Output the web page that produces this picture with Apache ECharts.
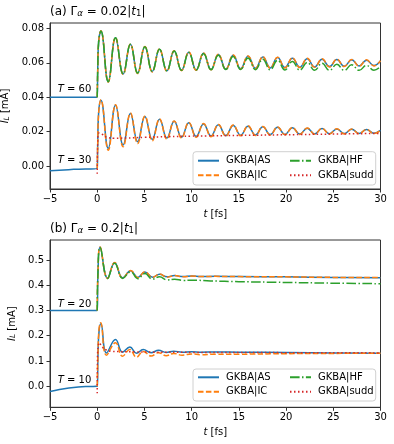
<!DOCTYPE html>
<html>
<head>
<meta charset="utf-8">
<script src="https://cdn.jsdelivr.net/npm/echarts@6/dist/echarts.min.js"></script>
<style>
  html, body { margin: 0; padding: 0; background: #fff; }
  #chart { width: 394px; height: 444px; }
</style>
</head>
<body>
<div id="chart"></div>
<script>
const FONT = 'DejaVu Sans';
const C_AS = '#1f77b4', C_IC = '#ff7f0e', C_HF = '#2ca02c', C_SUDD = '#d62728';

// ---- data ----
const xTicks = [-5, 0, 5, 10, 15, 20, 25, 30];
const yTicksA = [0.00, 0.02, 0.04, 0.06, 0.08];
const yTicksB = [0.0, 0.1, 0.2, 0.3, 0.4, 0.5];

// times of the extrema (peak / trough) in panel (a)
const extT = [0.39,1.17,1.94,2.75,3.52,4.28,5.05,5.83,6.6,7.38,8.15,8.93,9.7,10.48,11.26,12.05,12.83,13.62,14.4,15.19,
  15.97,16.76,17.54,18.32,19.1,19.88,20.67,21.45,22.24,23.02,23.81,24.6,25.38,26.16,26.95,27.74,28.52,29.3,30];

// (a) T = 60
const preA60 = [[-5, 0.04], [0, 0.04]];
const riseA60 = [[0, 0.04], [0.05, 0.055], [0.15, 0.072]];
const asA60 = [0.0784,0.0490,0.0745,0.0535,0.0707,0.0540,0.0693,0.0549,0.0678,0.0553,0.0668,0.0556,0.0661,0.0558,0.0655,0.0561,0.0648,0.0563,0.0643,0.0566,
  0.0638,0.0568,0.0634,0.0570,0.0630,0.0572,0.0627,0.0574,0.0624,0.0576,0.0621,0.0578,0.0619,0.0580,0.0617,0.0582,0.0615,0.0584,0.0610];
const icA60 = [0.0786,0.0488,0.0747,0.0533,0.0709,0.0538,0.0695,0.0547,0.0680,0.0551,0.0670,0.0554,0.0663,0.0556,0.0657,0.0559,0.0650,0.0561,0.0645,0.0564,
  0.0640,0.0566,0.0636,0.0568,0.0632,0.0570,0.0629,0.0572,0.0626,0.0574,0.0623,0.0576,0.0621,0.0578,0.0619,0.0580,0.0617,0.0582,0.0612];
const hfA60 = [0.0784,0.0490,0.0745,0.0535,0.0707,0.0540,0.0693,0.0549,0.0678,0.0553,0.0668,0.0556,0.0660,0.0558,0.0652,0.0560,0.0644,0.0561,0.0636,0.0561,
  0.0628,0.0560,0.0621,0.0559,0.0614,0.0558,0.0608,0.0557,0.0602,0.0556,0.0597,0.0556,0.0592,0.0556,0.0588,0.0556,0.0585,0.0557,0.0578];

// (a) T = 30
const preA30 = [[-5, -0.0027], [-2.5, -0.0019], [0, -0.0012]];
const riseA30 = [[0, -0.0012], [0.05, 0.012], [0.15, 0.031]];
const asA30 = [0.0383,0.0103,0.0354,0.0122,0.0305,0.0141,0.0288,0.0155,0.0272,0.0163,0.0260,0.0168,0.0252,0.0172,0.0245,0.0175,0.0240,0.0177,0.0236,0.0179,
  0.0232,0.0181,0.0228,0.0183,0.0225,0.0184,0.0222,0.0186,0.0220,0.0187,0.0218,0.0188,0.0216,0.0189,0.0214,0.0190,0.0212,0.0191,0.0207];
const icA30 = [0.0385,0.0092,0.0356,0.0112,0.0308,0.0131,0.0290,0.0147,0.0274,0.0157,0.0262,0.0163,0.0254,0.0168,0.0247,0.0171,0.0242,0.0174,0.0238,0.0176,
  0.0234,0.0178,0.0230,0.0180,0.0227,0.0182,0.0224,0.0184,0.0221,0.0185,0.0219,0.0186,0.0217,0.0187,0.0215,0.0188,0.0213,0.0189,0.0208];
const suddA30 = [[0,-0.0045],[0.04,0.010],[0.2,0.0192],[0.5,0.0186],[1,0.0168],[1.8,0.0162],[3,0.0163],[5,0.0167],[7.5,0.0171],
  [10,0.0174],[15,0.0178],[20,0.0182],[25,0.0186],[30,0.0190]];

// (b) T = 20
const asB20 = [[-5,0.3],[0,0.3],[0.08,0.45],[0.3,0.55],[1.1,0.428],[1.85,0.489],[2.7,0.429],[3.55,0.457],[4.3,0.431],[5.05,0.452],
  [5.85,0.432],[6.6,0.443],[7.4,0.433],[8.2,0.438],[9.1,0.434],[10,0.436],[11,0.434],[12.5,0.435],[15,0.434],[20,0.433],[25,0.431],[30,0.430]];
const icB20 = [[0,0.3],[0.08,0.45],[0.3,0.551],[1.1,0.427],[1.85,0.490],[2.7,0.428],[3.55,0.458],[4.3,0.430],[5.05,0.453],
  [5.85,0.431],[6.6,0.444],[7.4,0.432],[8.2,0.438],[9.1,0.433],[10,0.436],[11,0.434],[12.5,0.435],[15,0.434],[20,0.433],[25,0.431],[30,0.430]];
const hfB20 = [[0,0.3],[0.08,0.45],[0.3,0.55],[1.1,0.427],[1.85,0.487],[2.7,0.427],[3.55,0.453],[4.3,0.426],[5.05,0.446],
  [5.85,0.424],[6.6,0.433],[7.4,0.421],[8.2,0.424],[9.1,0.419],[10,0.420],[12,0.417],[15,0.414],[20,0.411],[25,0.408],[30,0.406]];

// (b) T = 10
const asB10 = [[-5,-0.021],[-4,-0.013],[-3,-0.007],[-2,-0.003],[-1,-0.001],[0,0],[0.08,0.12],[0.2,0.22],[0.39,0.247],[0.98,0.132],
  [1.94,0.185],[2.68,0.135],[3.46,0.155],[4.16,0.131],[4.87,0.145],[5.7,0.133],[6.5,0.142],[7.3,0.134],[8.1,0.139],[9,0.135],
  [10,0.137],[11,0.135],[12.5,0.136],[15,0.135],[20,0.134],[25,0.132],[30,0.131]];
const icB10 = [[0,0],[0.08,0.13],[0.2,0.23],[0.36,0.251],[0.98,0.123],[1.94,0.172],[2.68,0.119],[3.46,0.145],[4.16,0.115],
  [4.87,0.138],[5.7,0.120],[6.5,0.133],[7.3,0.121],[8.1,0.130],[9,0.123],[10,0.128],[11,0.125],[12.5,0.127],[15,0.127],
  [20,0.129],[25,0.130],[30,0.131]];
const suddB10 = [[0,-0.028],[0.03,0.12],[0.25,0.172],[0.5,0.156],[1,0.143],[1.5,0.138],[2.5,0.137],[4,0.136],[6,0.135],
  [10,0.134],[20,0.133],[30,0.132]];

const zip = (ts, vs) => ts.map((t, i) => [t, vs[i]]);

// ---- styles ----
const rich = {
  it: { fontFamily: FONT, fontStyle: 'italic', fontSize: 10, color: '#000' },
  sub: { fontFamily: FONT, fontStyle: 'italic', fontSize: 7.5, color: '#000', verticalAlign: 'bottom', lineHeight: 8 }
};
const richTitle = {
  it: { fontFamily: FONT, fontStyle: 'italic', fontSize: 12, color: '#000' },
  sub: { fontFamily: FONT, fontStyle: 'italic', fontSize: 8.5, color: '#000', verticalAlign: 'bottom', lineHeight: 9 },
  subn: { fontFamily: FONT, fontSize: 8.5, color: '#000', verticalAlign: 'bottom', lineHeight: 9 }
};
const fmtX = v => (v < 0 ? '\u2212' + Math.abs(v) : String(v));

function xAxis(gi) {
  return {
    type: 'value', gridIndex: gi, min: -5, max: 30, interval: 5,
    name: '{it|t} [fs]', nameLocation: 'middle', nameGap: 20,
    nameTextStyle: { fontFamily: FONT, fontSize: 10, color: '#000', rich },
    axisLine: { show: true, onZero: false, lineStyle: { color: '#333', width: 1 } },
    axisTick: { show: true, length: 3.5, lineStyle: { color: '#333' }, customValues: xTicks },
    axisLabel: { margin: 5, fontFamily: FONT, fontSize: 10, color: '#000', formatter: fmtX, customValues: xTicks },
    splitLine: { show: false }
  };
}
function yAxis(gi, min, max, ticks, digits) {
  return {
    type: 'value', gridIndex: gi, min, max,
    name: '{it|I}{sub|L} [mA]', nameLocation: 'middle', nameGap: 22, nameRotate: 90,
    nameTextStyle: { fontFamily: FONT, fontSize: 10, color: '#000', rich },
    axisLine: { show: true, onZero: false, lineStyle: { color: '#333', width: 1 } },
    axisTick: { show: true, length: 3.5, lineStyle: { color: '#333' }, customValues: ticks },
    axisLabel: { margin: 6, fontFamily: FONT, fontSize: 10, color: '#000',
      formatter: v => v.toFixed(digits), customValues: ticks },
    splitLine: { show: false }
  };
}
function line(name, data, gi, color, type, z, mark) {
  const s = {
    name, type: 'line', data, xAxisIndex: gi, yAxisIndex: gi,
    smooth: 0.45, symbol: 'none', z,
    lineStyle: { color, width: 1.5, type },
    itemStyle: { color }
  };
  if (mark) {
    s.markPoint = {
      symbol: 'circle', symbolSize: 0,
      label: { show: true, position: 'inside', fontFamily: FONT, fontSize: 10, color: '#000', rich },
      data: mark.map(m => ({ coord: m.coord, label: { formatter: m.text } }))
    };
  }
  return s;
}

const dashIC = [5.5, 2.4];
const dashHF = [9.6, 2.4, 1.5, 2.4];
const dotSudd = [1.5, 2.5];

function legends(top) {
  const base = {
    orient: 'vertical', top, itemWidth: 21, itemHeight: 12, itemGap: 2.5, padding: 0, z: 12,
    itemStyle: { opacity: 0 },
    textStyle: { fontFamily: FONT, fontSize: 10, color: '#000', lineHeight: 12, padding: [0, 0, 0, 2] },
    selectedMode: false
  };
  return [
    Object.assign({}, base, { left: 197, data: ['GKBA|AS', 'GKBA|IC'] }),
    Object.assign({}, base, { left: 289, data: ['GKBA|HF', 'GKBA|sudd'] })
  ];
}

const chart = echarts.init(document.getElementById('chart'));
chart.setOption({
  animation: false,
  backgroundColor: '#fff',
  title: [
    { text: '(a) \u0393{sub|\u03b1} = 0.02|{it|t}{subn|1}|', left: 50, top: 6, padding: 0,
      textStyle: { fontFamily: FONT, fontSize: 12, fontWeight: 'normal', color: '#000', rich: richTitle } },
    { text: '(b) \u0393{sub|\u03b1} = 0.2|{it|t}{subn|1}|', left: 50, top: 223, padding: 0,
      textStyle: { fontFamily: FONT, fontSize: 12, fontWeight: 'normal', color: '#000', rich: richTitle } }
  ],
  grid: [
    { left: 50, top: 23, width: 330.5, height: 166, show: true, borderColor: '#333', borderWidth: 1,
      outerBoundsMode: 'none', containLabel: false },
    { left: 50, top: 240, width: 330.5, height: 167.3, show: true, borderColor: '#333', borderWidth: 1,
      outerBoundsMode: 'none', containLabel: false }
  ],
  xAxis: [xAxis(0), xAxis(1)],
  yAxis: [
    yAxis(0, -0.0133, 0.0831, yTicksA, 2),
    yAxis(1, -0.0834, 0.579, yTicksB, 1)
  ],
  legend: legends(154.7).concat(legends(371.3)),
  graphic: [
    { type: 'rect', z: 10, shape: { x: 193, y: 151.7, width: 182.7, height: 33.3, r: 3 },
      style: { fill: 'rgba(255,255,255,0.8)', stroke: '#d0d0d0', lineWidth: 1 } },
    { type: 'rect', z: 10, shape: { x: 193, y: 369, width: 182.7, height: 32, r: 3 },
      style: { fill: 'rgba(255,255,255,0.8)', stroke: '#d0d0d0', lineWidth: 1 } }
  ],
  series: [
    // panel (a)
    line('GKBA|AS', preA60.concat(riseA60.slice(1), zip(extT, asA60)), 0, C_AS, 'solid', 2,
      [{ coord: [-2.4, 0.0446], text: '{it|T} = 60' }]),
    line('GKBA|AS', preA30.concat(riseA30.slice(1), zip(extT, asA30)), 0, C_AS, 'solid', 2,
      [{ coord: [-2.4, 0.0035], text: '{it|T} = 30' }]),
    line('GKBA|IC', riseA60.concat(zip(extT, icA60)), 0, C_IC, dashIC, 3),
    line('GKBA|IC', riseA30.concat(zip(extT, icA30)), 0, C_IC, dashIC, 3),
    line('GKBA|HF', riseA60.concat(zip(extT, hfA60)), 0, C_HF, dashHF, 3),
    line('GKBA|sudd', suddA30, 0, C_SUDD, dotSudd, 4),
    // panel (b)
    line('GKBA|AS', asB20, 1, C_AS, 'solid', 2, [{ coord: [-2.4, 0.325], text: '{it|T} = 20' }]),
    line('GKBA|AS', asB10, 1, C_AS, 'solid', 2, [{ coord: [-2.4, 0.025], text: '{it|T} = 10' }]),
    line('GKBA|IC', icB20, 1, C_IC, dashIC, 3),
    line('GKBA|IC', icB10, 1, C_IC, dashIC, 3),
    line('GKBA|HF', hfB20, 1, C_HF, dashHF, 3),
    line('GKBA|sudd', suddB10, 1, C_SUDD, dotSudd, 4)
  ]
});
window.addEventListener('resize', () => chart.resize());
</script>
</body>
</html>
